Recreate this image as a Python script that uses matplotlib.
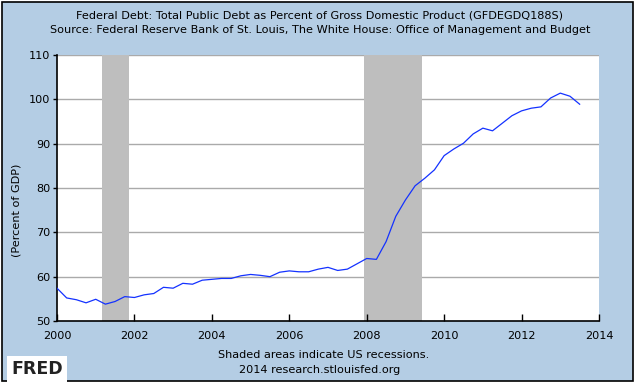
import matplotlib
matplotlib.use("Agg")
import matplotlib.pyplot as plt
from matplotlib.patches import Rectangle

# quarterly observations, 2000Q1 .. 2013Q3
start_year = 2000
debt_pct = [
    57.4, 55.2, 54.8, 54.1, 54.9, 53.8, 54.4, 55.5,
    55.3, 55.9, 56.2, 57.6, 57.4, 58.5, 58.3, 59.2,
    59.4, 59.6, 59.6, 60.2, 60.5, 60.3, 60.0, 61.0,
    61.3, 61.1, 61.1, 61.7, 62.1, 61.4, 61.7, 62.9,
    64.1, 63.9, 67.9, 73.6, 77.3, 80.5, 82.2, 84.1,
    87.3, 88.8, 90.1, 92.2, 93.5, 92.9, 94.6, 96.3,
    97.4, 98.0, 98.3, 100.3, 101.4, 100.7, 98.9,
]
dates = [start_year + i / 4 for i in range(len(debt_pct))]

recessions = [(2001.17, 2001.85), (2007.92, 2009.42)]
x_ticks = [2000, 2002, 2004, 2006, 2008, 2010, 2012, 2014]
y_ticks = [50, 60, 70, 80, 90, 100, 110]

BG = "#b4cde4"
LINE_C = "#1432ff"
SHADE_C = "#bebebe"
GRID_C = "#aaaaaa"
FS = 8.1

plt.rcParams["font.family"] = "DejaVu Sans"

fig = plt.figure(figsize=(6.39, 3.88), dpi=100)
fig.patch.set_facecolor("white")
fig.patches.append(Rectangle((2 / 639, 1 - 381 / 388), 631 / 639, 379 / 388,
                             transform=fig.transFigure, facecolor=BG,
                             edgecolor="black", linewidth=1.2, zorder=-1))

ax = fig.add_axes([57 / 639, 1 - 321 / 388, 542 / 639, 266 / 388])
ax.set_facecolor("white")
for a, b in recessions:
    ax.axvspan(a, b, color=SHADE_C, lw=0, zorder=1)
for y in y_ticks[1:]:
    ax.axhline(y, color=GRID_C, lw=1.0, zorder=0.5)
ax.plot(dates, debt_pct, color=LINE_C, lw=0.9, zorder=3)

ax.set_xlim(2000, 2014)
ax.set_ylim(50, 110)
ax.set_xticks(x_ticks)
ax.set_yticks(y_ticks)
ax.tick_params(axis="x", direction="in", length=5, width=1, labelsize=FS,
               pad=7, colors="black")
ax.tick_params(axis="y", direction="out", length=3, width=1, labelsize=FS,
               pad=2)
for s in ("top", "right"):
    ax.spines[s].set_visible(False)
for s in ("left", "bottom"):
    ax.spines[s].set_linewidth(1.2)

fig.text(320 / 639, 1 - 16 / 388,
         "Federal Debt: Total Public Debt as Percent of Gross Domestic Product (GFDEGDQ188S)",
         ha="center", va="center", fontsize=FS)
fig.text(320 / 639, 1 - 30 / 388,
         "Source: Federal Reserve Bank of St. Louis, The White House: Office of Management and Budget",
         ha="center", va="center", fontsize=FS)
fig.text(17 / 639, 1 - 210 / 388, "(Percent of GDP)", rotation=90,
         ha="center", va="center", fontsize=FS)
fig.text(324 / 639, 1 - 355 / 388, "Shaded areas indicate US recessions.",
         ha="center", va="center", fontsize=FS)
fig.text(320 / 639, 1 - 370 / 388, "2014 research.stlouisfed.org",
         ha="center", va="center", fontsize=FS)
fig.text(11 / 639, 1 - 369 / 388, "FRED", ha="left", va="center",
         fontsize=12.5, fontweight="bold", color="#222222",
         bbox=dict(facecolor="white", edgecolor="none", pad=3))

fig.savefig("out.png", dpi=100)
